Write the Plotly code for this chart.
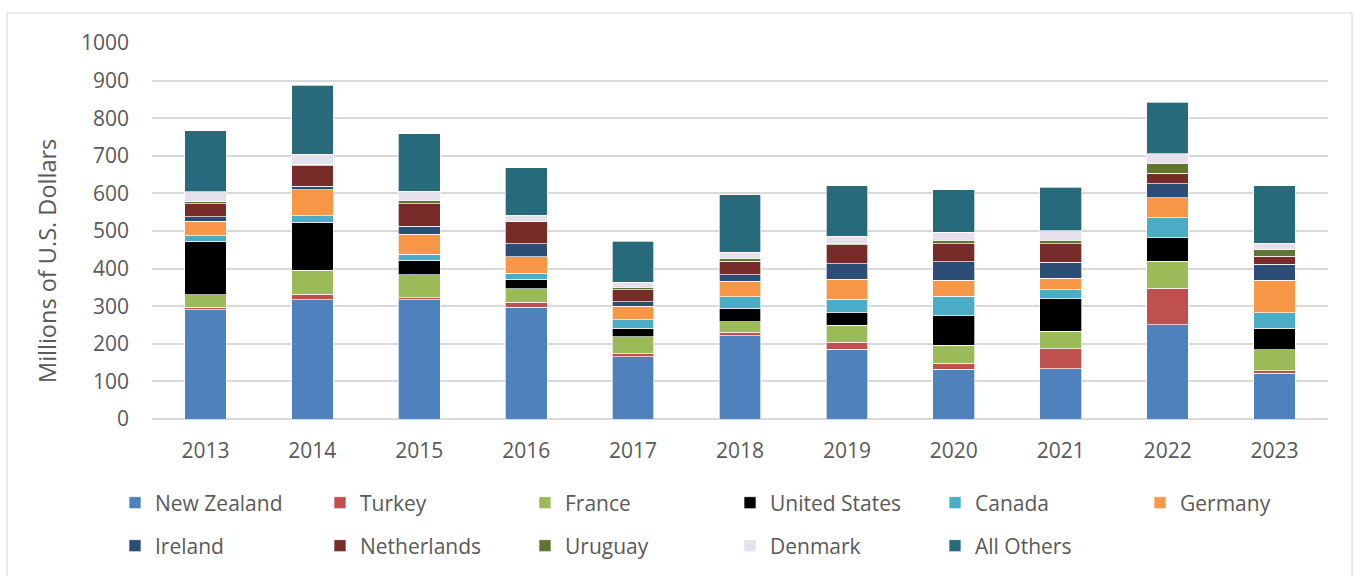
import plotly.graph_objects as go

years = ["2013", "2014", "2015", "2016", "2017", "2018", "2019", "2020", "2021", "2022", "2023"]

new_zealand   = [290, 317, 317, 297, 165, 222, 185, 132, 134, 251, 122]
turkey        = [7, 15, 5, 14, 9, 9, 19, 16, 53, 97, 6]
france        = [34, 63, 62, 36, 45, 28, 46, 48, 46, 71, 56]
united_states = [142, 128, 38, 25, 23, 36, 33, 79, 87, 63, 57]
canada        = [15, 18, 16, 16, 22, 30, 35, 52, 24, 53, 41]
germany       = [38, 69, 53, 43, 36, 41, 54, 42, 30, 53, 87]
ireland       = [12, 9, 22, 35, 12, 18, 41, 49, 43, 38, 43]
netherlands   = [34, 55, 60, 58, 32, 36, 50, 48, 49, 27, 21]
uruguay       = [6, 2, 8, 2, 7, 7, 4, 10, 10, 27, 17]
denmark       = [26, 28, 25, 16, 13, 16, 19, 21, 25, 26, 17]
all_others    = [163, 184, 152, 126, 109, 154, 134, 113, 116, 137, 154]

series = [
    ("New Zealand", new_zealand, "#4F81BD", "legend"),
    ("Turkey", turkey, "#C0504D", "legend"),
    ("France", france, "#9BBB59", "legend"),
    ("United States", united_states, "#000000", "legend"),
    ("Canada", canada, "#4BACC6", "legend"),
    ("Germany", germany, "#F79646", "legend3"),
    ("Ireland", ireland, "#2C4D75", "legend2"),
    ("Netherlands", netherlands, "#772C2A", "legend2"),
    ("Uruguay", uruguay, "#5F7530", "legend2"),
    ("Denmark", denmark, "#E5E0EC", "legend2"),
    ("All Others", all_others, "#276A7C", "legend2"),
]

FONT = "Open Sans"
TXT = "#595959"
FS = 21

fig = go.Figure()
for name, vals, color, lg in series:
    fig.add_trace(go.Bar(
        x=years, y=vals, name=name, legend=lg,
        marker=dict(color=color, line=dict(color="rgba(255,255,255,0.85)", width=0.8)),
    ))

W, H = 1354, 576
L, R, T, B = 152, 26, 43, 157
pw = W - L - R
ph = H - T - B

def px_x(p):
    return (p - L) / pw

def px_y(p):
    return (H - B - p) / ph

legend_common = dict(
    orientation="h", entrywidth=160, entrywidthmode="pixels",
    font=dict(family=FONT, size=FS, color=TXT),
    bgcolor="rgba(0,0,0,0)", xanchor="left", yanchor="middle",
    itemclick=False, itemdoubleclick=False, traceorder="normal",
)

fig.update_layout(
    width=W, height=H,
    margin=dict(l=L, r=R, t=T, b=B, autoexpand=False),
    barmode="stack", bargap=0.61,
    plot_bgcolor="white", paper_bgcolor="white",
    font=dict(family=FONT, size=FS, color=TXT),
    showlegend=True,
    legend=dict(x=px_x(115), y=px_y(503), **legend_common),
    legend3=dict(x=px_x(1140), y=px_y(503), **legend_common),
    legend2=dict(x=px_x(115), y=px_y(546), **legend_common),
    xaxis=dict(
        showgrid=False, showline=False, ticks="",
        tickfont=dict(family=FONT, size=FS, color=TXT),
        ticklabelstandoff=17,
    ),
    yaxis=dict(
        range=[0, 1000], dtick=100, tick0=0,
        showgrid=True, gridcolor="#D9D9D9", gridwidth=1.5,
        zeroline=True, zerolinecolor="#D9D9D9", zerolinewidth=1.5,
        showline=False, ticks="",
        tickfont=dict(family=FONT, size=FS, color=TXT),
        ticklabelstandoff=22,
    ),
    annotations=[dict(
        text="Millions of U.S. Dollars", textangle=-90,
        xref="paper", yref="paper", x=px_x(47), y=px_y(261),
        xanchor="center", yanchor="middle", showarrow=False,
        font=dict(family=FONT, size=23.5, color=TXT),
    )],
    shapes=[dict(
        type="rect", xref="paper", yref="paper",
        x0=px_x(7), x1=px_x(1352), y0=px_y(590), y1=px_y(13),
        line=dict(color="#D9D9D9", width=1.2), layer="below",
    )],
)

fig.write_html("out.html", config={"displayModeBar": False},
               post_script="document.body.style.margin='0';")
